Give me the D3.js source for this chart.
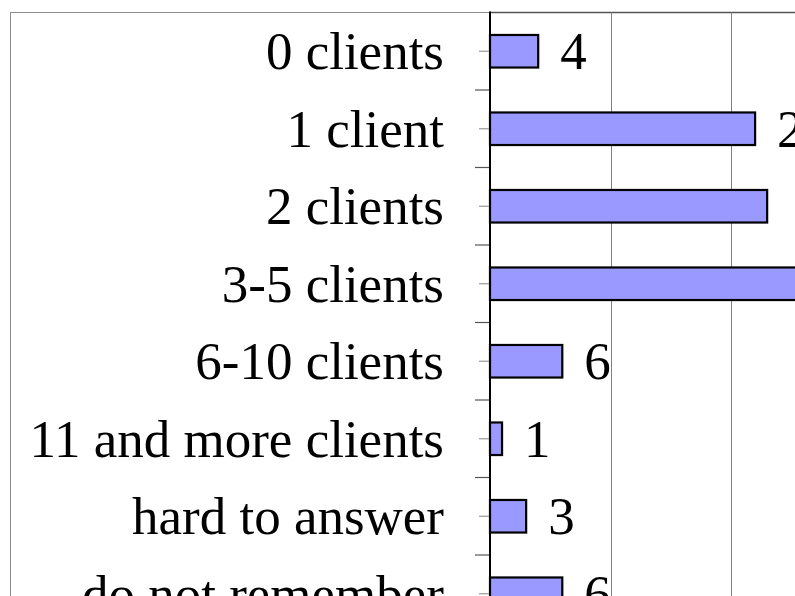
<!DOCTYPE html>
<html>
<head>
<meta charset="utf-8">
<script src="https://cdn.jsdelivr.net/npm/d3@7"></script>
<style>
  body { margin: 0; background: #fff; }
  svg { display: block; }
  text { font-family: "Liberation Serif", "Times New Roman", serif; fill: #000; }
</style>
</head>
<body>
<div id="main"></div>
<script>
// data
const categories = ["0 clients", "1 client", "2 clients", "3-5 clients", "6-10 clients",
  "11 and more clients", "hard to answer", "do not remember"];
const counts = [4, 22, 23, 30, 6, 1, 3, 6];
const gridValues = [10, 20, 30];

const W = 795, H = 596;
const plot = { left: 490, top: 12.5, bottom: 632.5 };

const svg = d3.select("#main").append("svg")
  .attr("width", W)
  .attr("height", H);

// outer chart frame (cropped)
svg.append("rect")
  .attr("x", 10.5).attr("y", 12.5)
  .attr("width", 1000).attr("height", 1000)
  .attr("fill", "none")
  .attr("stroke", "#8c8c8c")
  .attr("stroke-width", 1);

const x = d3.scaleLinear().domain([0, 10]).range([plot.left, plot.left + 120.5]);

const y = d3.scaleBand()
  .domain(categories)
  .range([plot.top, plot.bottom])
  .paddingInner(0.58)
  .paddingOuter(0.29);

const step = y.step();

// plot area border top
svg.append("line")
  .attr("x1", plot.left).attr("x2", W)
  .attr("y1", plot.top).attr("y2", plot.top)
  .attr("stroke", "#555").attr("stroke-width", 1.5);

// gridlines
svg.append("g")
  .selectAll("line")
  .data(gridValues)
  .join("line")
  .attr("x1", d => Math.round(x(d)) + 0.5)
  .attr("x2", d => Math.round(x(d)) + 0.5)
  .attr("y1", plot.top)
  .attr("y2", plot.bottom)
  .attr("stroke", "#808080")
  .attr("stroke-width", 1);

// bars
svg.append("g")
  .selectAll("rect")
  .data(categories)
  .join("rect")
  .attr("x", x(0))
  .attr("y", d => y(d))
  .attr("width", (d, i) => x(counts[i]) - x(0))
  .attr("height", y.bandwidth())
  .attr("fill", "#9999ff")
  .attr("stroke", "#000")
  .attr("stroke-width", 2.2);

// category ticks: centre ticks (short, light) and boundary ticks (longer, darker)
svg.append("g")
  .selectAll("line")
  .data(categories)
  .join("line")
  .attr("x1", plot.left - 11).attr("x2", plot.left)
  .attr("y1", d => y(d) + y.bandwidth() / 2)
  .attr("y2", d => y(d) + y.bandwidth() / 2)
  .attr("stroke", "#999").attr("stroke-width", 1.2);

svg.append("g")
  .selectAll("line")
  .data(d3.range(1, categories.length))
  .join("line")
  .attr("x1", plot.left - 15).attr("x2", plot.left)
  .attr("y1", d => plot.top + d * step)
  .attr("y2", d => plot.top + d * step)
  .attr("stroke", "#555").attr("stroke-width", 1.2);

// vertical axis line
svg.append("line")
  .attr("x1", plot.left).attr("x2", plot.left)
  .attr("y1", plot.top - 1).attr("y2", H)
  .attr("stroke", "#000").attr("stroke-width", 2);

// category labels
svg.append("g")
  .selectAll("text")
  .data(categories)
  .join("text")
  .attr("x", 444)
  .attr("y", d => y(d) + y.bandwidth() / 2 + 18)
  .attr("text-anchor", "end")
  .attr("font-size", 53)
  .text(d => d);

// value labels (those that would start past the right edge are cut off in the original)
svg.append("g")
  .selectAll("text")
  .data(categories.filter((d, i) => x(counts[i]) + 22 < 785))
  .join("text")
  .attr("x", d => x(counts[categories.indexOf(d)]) + 22)
  .attr("y", d => y(d) + y.bandwidth() / 2 + 18)
  .attr("font-size", 53)
  .text(d => counts[categories.indexOf(d)]);
</script>
</body>
</html>
